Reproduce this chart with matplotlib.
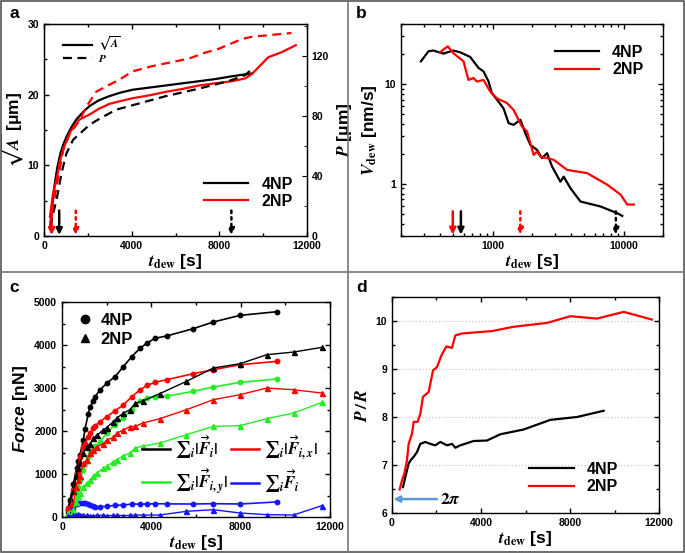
import matplotlib
matplotlib.use("Agg")
import matplotlib.pyplot as plt
from matplotlib.lines import Line2D
from matplotlib.patches import Rectangle
from matplotlib.ticker import MultipleLocator, FixedLocator, NullFormatter, FuncFormatter, LogLocator

plt.rcParams['font.family'] = ['Liberation Sans', 'DejaVu Sans']
plt.rcParams['font.weight'] = 'bold'
plt.rcParams['mathtext.fontset'] = 'stix'
plt.rcParams['mathtext.it'] = 'Liberation Sans:italic:bold'
plt.rcParams['mathtext.rm'] = 'Liberation Sans:bold'
plt.rcParams['mathtext.bf'] = 'Liberation Sans:bold'

# ---------------- data: panel a ----------------
t_a_sqrt4 = [300, 450, 600, 750, 875, 1050, 1250, 1479, 1800, 2083, 2500, 2988, 3500, 4045, 4800, 5555, 6300, 7064, 7800, 8574, 9000, 9480]
sqrtA_4 = [2.0, 6.5, 9.6, 11.7, 12.9, 14.2, 15.4, 16.5, 17.6, 18.4, 19.2, 19.8, 20.3, 20.7, 21.0, 21.3, 21.6, 21.9, 22.2, 22.6, 22.8, 23.0]
t_a_sqrt2 = [272, 400, 574, 720, 875, 1177, 1400, 1630, 2083, 2500, 2988, 3500, 4045, 4800, 5555, 6300, 7064, 7800, 8574, 9178, 9480, 10234, 10838, 11487]
sqrtA_2 = [2.7, 5.8, 8.0, 10.5, 12.3, 14.6, 15.7, 16.5, 17.2, 18.0, 18.7, 19.1, 19.5, 19.9, 20.4, 20.8, 21.3, 21.6, 21.9, 22.3, 22.9, 25.3, 26.0, 27.0]
t_a_P4 = [272, 450, 574, 800, 1026, 1328, 1630, 2083, 2536, 3290, 4045, 5555, 7064, 8423, 9178, 9480]
P_4 = [6, 17, 24, 42, 55, 64, 68, 74, 78, 84, 87, 93, 98, 103, 107, 111]
t_a_P2 = [272, 420, 574, 875, 1177, 1630, 1932, 2385, 2838, 3441, 4045, 4950, 6611, 7366, 7970, 9027, 9480, 11291]
P_2 = [6, 20, 33, 57, 68, 77, 86, 96, 99.5, 104, 109.5, 113, 118, 122, 124.5, 131, 132.5, 135]
arrows_a = [(347, 'red', '-'), (694, 'black', '-'), (1450, 'red', ':'), (8550, 'black', ':')]

# ---------------- data: panel b ----------------
t_b4 = [284, 324, 353, 421, 502, 566, 675, 782, 853, 932, 988, 1079, 1213, 1326, 1448, 1629, 1778, 1942, 2184, 2385, 2606, 2846, 3296, 3493, 3928, 4688, 6668, 8951, 9772]
v_b4 = [16.9, 21.3, 21.7, 20.2, 21.7, 20.8, 18.7, 14.5, 13.4, 10.6, 8.1, 7.0, 5.7, 4.06, 3.9, 4.39, 3.22, 2.46, 2.19, 1.81, 2.03, 1.49, 1.05, 1.18, 0.905, 0.665, 0.593, 0.508, 0.477]
t_b2 = [398, 455, 502, 600, 655, 715, 759, 853, 960, 1079, 1288, 1448, 1675, 1832, 2060, 2184, 2317, 2932, 3707, 5272, 7500, 9484, 10670, 12000]
v_b2 = [20.9, 23.9, 20.4, 16.9, 11.0, 11.5, 10.6, 11.0, 8.4, 7.2, 6.45, 5.5, 3.76, 3.35, 1.95, 2.11, 1.88, 1.74, 1.38, 1.28, 0.98, 0.78, 0.62, 0.62]
arrows_b = [(497, 'red', '-'), (573, 'black', '-'), (1629, 'red', ':'), (8730, 'black', ':')]

# ---------------- data: panel c ----------------
t_c4 = [255, 358, 508, 657, 731, 806, 955, 1030, 1179, 1254, 1403, 1478, 1702, 2001, 2374, 2746, 3119, 3493, 3791, 4164, 4686, 5872, 6771, 7969, 9617]
F_c4_tot = [170, 400, 760, 1150, 1300, 1450, 1791, 2050, 2400, 2566, 2700, 2798, 2954, 3110, 3264, 3496, 3729, 3923, 4040, 4156, 4210, 4379, 4534, 4689, 4774]
F_c4_x = [209, 240, 628, 1016, 1100, 1403, 1635, 1700, 1868, 1950, 2062, 2120, 2217, 2330, 2470, 2605, 2798, 2954, 3060, 3130, 3193, 3332, 3425, 3541, 3619]
F_c4_y = [100, 150, 163, 551, 700, 861, 1100, 1249, 1400, 1482, 1600, 1650, 1752, 1950, 2150, 2300, 2500, 2690, 2760, 2800, 2810, 2922, 3022, 3131, 3209]
F_c4_sum = [15, 170, 240, 300, 320, 326, 326, 330, 300, 280, 250, 240, 233, 250, 270, 279, 300, 300, 300, 310, 305, 302, 310, 302, 350]
t_c2 = [255, 508, 629, 731, 806, 955, 1105, 1254, 1403, 1553, 1851, 2001, 2299, 2448, 2746, 3045, 3269, 3625, 4374, 5573, 6771, 7969, 9168, 10366, 11639]
F_c2_tot = [170, 600, 945, 1150, 1249, 1500, 1635, 1700, 1829, 1900, 2024, 2080, 2217, 2300, 2411, 2500, 2644, 2700, 2868, 3154, 3464, 3565, 3774, 3836, 3945]
F_c2_x = [209, 318, 700, 861, 950, 1249, 1330, 1482, 1550, 1635, 1700, 1791, 1850, 1947, 2024, 2101, 2108, 2185, 2286, 2495, 2728, 2844, 2999, 2960, 2883]
F_c2_y = [100, 170, 360, 480, 560, 700, 790, 850, 950, 1023, 1130, 1178, 1280, 1333, 1420, 1488, 1604, 1650, 1720, 1914, 2108, 2124, 2286, 2418, 2666]
F_c2_sum = [15, 40, 54, 60, 50, 40, 35, 31, 30, 35, 40, 31, 35, 40, 30, 40, 46, 45, 46, 132, 170, 93, 54, 46, 264]

# ---------------- data: panel d ----------------
t_d2 = [345, 449, 554, 674, 749, 824, 899, 974, 1153, 1273, 1393, 1648, 1843, 2022, 2217, 2442, 2696, 2846, 3146, 4494, 5468, 6966, 8014, 9213, 10411, 11684]
PR_2 = [6.49, 6.68, 6.82, 7.10, 7.44, 7.55, 7.65, 7.90, 7.90, 8.07, 8.42, 8.52, 8.97, 9.04, 9.28, 9.47, 9.44, 9.70, 9.74, 9.79, 9.88, 9.96, 10.10, 10.05, 10.19, 10.03]
t_d4 = [494, 599, 749, 854, 974, 1123, 1273, 1498, 1723, 1947, 2172, 2472, 2696, 2846, 3071, 3670, 4269, 4869, 5917, 7116, 8314, 9512]
PR_4 = [6.54, 6.75, 7.03, 7.11, 7.17, 7.27, 7.44, 7.48, 7.44, 7.41, 7.48, 7.41, 7.44, 7.36, 7.41, 7.50, 7.51, 7.64, 7.74, 7.94, 8.00, 8.13]

W, H = 685, 553
fig = plt.figure(figsize=(W / 100, H / 100), dpi=100)

def ax_at(l, t, r, b):
    return fig.add_axes([l / W, 1 - b / H, (r - l) / W, (b - t) / H])

TICK_FS = 7.5
LAB_FS = 12.5
XLABEL = r'$\mathbfit{t}_{\mathbf{dew}}$ [s]'
SERIF = dict(math_fontfamily='stix')

def style(ax, right=True):
    ax.tick_params(which='both', direction='in', top=True, right=right, labelsize=TICK_FS, width=1)
    ax.tick_params(which='major', length=3.5)
    ax.tick_params(which='minor', length=2)
    for s in ax.spines.values():
        s.set_linewidth(1.0)
    for lab in ax.get_xticklabels() + ax.get_yticklabels():
        lab.set_fontweight('bold')

def xlab(ax):
    ax.set_xlabel(XLABEL, fontsize=LAB_FS, fontweight='bold', labelpad=1, **SERIF)

# ---------------- panel a ----------------
axa = ax_at(44, 24, 307, 236)
axa.plot(t_a_sqrt4, sqrtA_4, color='black', lw=1.6)
axa.plot(t_a_sqrt2, sqrtA_2, color='red', lw=1.6)
axa.set_xlim(0, 12000)
axa.set_ylim(0, 30)
axa.xaxis.set_major_locator(MultipleLocator(4000))
axa.xaxis.set_minor_locator(MultipleLocator(2000))
axa.yaxis.set_major_locator(MultipleLocator(10))
axa.yaxis.set_minor_locator(MultipleLocator(5))
style(axa, right=False)
xlab(axa)
axa.set_ylabel(r'$\sqrt{\mathbfit{A}}$ [μm]', fontsize=LAB_FS, fontweight='bold', labelpad=2, **SERIF)
axr = axa.twinx()
axr.plot(t_a_P4, P_4, color='black', lw=1.6, ls=(0, (4, 2.5)))
axr.plot(t_a_P2, P_2, color='red', lw=1.6, ls=(0, (4, 2.5)))
axr.set_ylim(0, 141)
axr.yaxis.set_major_locator(MultipleLocator(40))
axr.yaxis.set_minor_locator(MultipleLocator(20))
axr.tick_params(which='both', direction='in', labelsize=TICK_FS)
axr.tick_params(which='major', length=3.5)
axr.tick_params(which='minor', length=2)
for lab in axr.get_yticklabels():
    lab.set_fontweight('bold')
axr.set_ylabel(r'$\mathbfit{P}$ [μm]', fontsize=LAB_FS, fontweight='bold', labelpad=4, **SERIF)
for t, c, ls in arrows_a:
    axa.annotate('', xy=(t, 0.15), xytext=(t, 3.6),
                 arrowprops=dict(arrowstyle='-|>', color=c, lw=1.8, ls=ls, mutation_scale=9, shrinkA=0, shrinkB=0))
h1 = [Line2D([], [], color='black', lw=1.6), Line2D([], [], color='black', lw=1.6, ls=(0, (4, 2.5)))]
leg1 = axa.legend(h1, [r'$\sqrt{A}$', r'$P$'], loc='upper left', bbox_to_anchor=(0.04, 0.99),
                  frameon=False, prop={'size': 8, 'weight': 'bold', 'style': 'italic'},
                  handlelength=2.6, labelspacing=0.0, borderpad=0.3, handletextpad=0.5)
axa.add_artist(leg1)
h2 = [Line2D([], [], color='black', lw=1.6), Line2D([], [], color='red', lw=1.6)]
axa.legend(h2, ['4NP', '2NP'], loc='lower right', bbox_to_anchor=(1.0, 0.06), frameon=False,
           prop={'size': 11.5, 'weight': 'bold'}, handlelength=2.8, labelspacing=0.15)

# ---------------- panel b ----------------
axb = ax_at(401, 24, 663, 236)
axb.plot(t_b4, v_b4, color='black', lw=1.6, label='4NP')
axb.plot(t_b2, v_b2, color='red', lw=1.6, label='2NP')
axb.set_xscale('log')
axb.set_yscale('log')
axb.set_xlim(200, 20000)
axb.set_ylim(0.3, 40)
fmt = FuncFormatter(lambda v, p: '%g' % v)
axb.xaxis.set_major_locator(FixedLocator([1000, 10000]))
axb.xaxis.set_major_formatter(fmt)
axb.xaxis.set_minor_locator(LogLocator(base=10, subs=range(2, 10)))
axb.xaxis.set_minor_formatter(NullFormatter())
axb.yaxis.set_major_locator(FixedLocator([1, 10]))
axb.yaxis.set_major_formatter(fmt)
axb.yaxis.set_minor_locator(LogLocator(base=10, subs=range(2, 10)))
axb.yaxis.set_minor_formatter(NullFormatter())
style(axb)
xlab(axb)
axb.set_ylabel(r'$\mathbfit{V}_{\mathbf{dew}}$ [nm/s]', fontsize=LAB_FS, fontweight='bold', labelpad=4, **SERIF)
for t, c, ls in arrows_b:
    axb.annotate('', xy=(t, 0.31), xytext=(t, 0.53),
                 arrowprops=dict(arrowstyle='-|>', color=c, lw=1.8, ls=ls, mutation_scale=9, shrinkA=0, shrinkB=0))
axb.legend(loc='upper right', bbox_to_anchor=(0.98, 0.97), frameon=False,
           prop={'size': 11.5, 'weight': 'bold'}, handlelength=2.8, labelspacing=0.15)

# ---------------- panel c ----------------
axc = ax_at(62, 302, 330, 517)
GREEN = '#22ee22'
BLUE = '#1515ff'
for F, col in [(F_c4_tot, 'black'), (F_c4_x, 'red'), (F_c4_y, GREEN), (F_c4_sum, BLUE)]:
    axc.plot(t_c4, F, color=col, lw=1.2, marker='o', ms=3.2)
for F, col in [(F_c2_tot, 'black'), (F_c2_x, 'red'), (F_c2_y, GREEN), (F_c2_sum, BLUE)]:
    axc.plot(t_c2, F, color=col, lw=1.0, marker='^', ms=3.6)
axc.set_xlim(0, 12000)
axc.set_ylim(0, 5000)
axc.xaxis.set_major_locator(MultipleLocator(4000))
axc.xaxis.set_minor_locator(MultipleLocator(2000))
axc.yaxis.set_major_locator(MultipleLocator(1000))
axc.yaxis.set_minor_locator(MultipleLocator(500))
style(axc)
xlab(axc)
axc.set_ylabel(r'$\mathit{Force}$ [nN]', fontsize=LAB_FS, fontweight='bold', labelpad=3, math_fontfamily='custom')
hm = [Line2D([], [], color='black', marker='o', ls='none', ms=6),
      Line2D([], [], color='black', marker='^', ls='none', ms=6)]
legm = axc.legend(hm, ['4NP', '2NP'], loc='upper left', bbox_to_anchor=(0.0, 1.02), frameon=False,
                  prop={'size': 12, 'weight': 'bold'}, handlelength=1.0, labelspacing=0.25, handletextpad=0.4)
axc.add_artist(legm)
hl = [Line2D([], [], color='black', lw=1.8), Line2D([], [], color=GREEN, lw=1.8),
      Line2D([], [], color='red', lw=1.8), Line2D([], [], color=BLUE, lw=1.8)]
labs = [r'${\sum}_i|\vec{\mathbfit{F}}_i|$', r'${\sum}_i|\vec{\mathbfit{F}}_{i,y}|$',
        r'${\sum}_i|\vec{\mathbfit{F}}_{i,x}|$', r'${\sum}_i\vec{\mathbfit{F}}_i$']
legl = axc.legend(hl, labs, loc='lower right', bbox_to_anchor=(1.01, 0.03), ncol=2, frameon=False,
                  prop={'size': 12}, handlelength=1.7, columnspacing=0.15, handletextpad=0.3, labelspacing=0.3)
for txt in legl.get_texts():
    txt.set_math_fontfamily('stix')

# ---------------- panel d ----------------
axd = ax_at(392, 297, 659, 513)
axd.plot(t_d4, PR_4, color='black', lw=1.6, label='4NP')
axd.plot(t_d2, PR_2, color='red', lw=1.6, label='2NP')
axd.set_xlim(0, 12000)
axd.set_ylim(6, 10.5)
axd.xaxis.set_major_locator(MultipleLocator(4000))
axd.xaxis.set_minor_locator(MultipleLocator(2000))
axd.yaxis.set_major_locator(MultipleLocator(1))
axd.yaxis.set_minor_locator(MultipleLocator(0.5))
axd.yaxis.grid(True, which='major', color='#c8c8c8', ls=':', lw=0.9)
style(axd)
xlab(axd)
axd.set_ylabel(r'$\mathbfit{P}\,/\,\mathbfit{R}$', fontsize=LAB_FS, fontweight='bold', labelpad=4, **SERIF)
axd.annotate('', xy=(60, 6.29), xytext=(2020, 6.29),
             arrowprops=dict(arrowstyle='-|>', color='#5b9bd5', lw=1.8, mutation_scale=9, shrinkA=0, shrinkB=0))
axd.text(2150, 6.29, r'$\mathbf{2}\mathbfit{\pi}$', fontsize=12.5, va='center', ha='left', **SERIF)
axd.legend(loc='lower right', bbox_to_anchor=(0.9, 0.02), frameon=False,
           prop={'size': 11.5, 'weight': 'bold'}, handlelength=2.8, labelspacing=0.15)

# ---------------- panel labels & frame ----------------
for x, y, s in [(9, 14, 'a'), (356, 14, 'b'), (9, 287, 'c'), (356, 287, 'd')]:
    fig.text(x / W, 1 - y / H, s, fontsize=12.5, fontweight='bold', ha='left', va='center')
fig.add_artist(Line2D([348 / W, 348 / W], [0, 1], transform=fig.transFigure, color='#777777', lw=1.2))
fig.add_artist(Line2D([0, 1], [1 - 272 / H, 1 - 272 / H], transform=fig.transFigure, color='#777777', lw=1.2))
fig.add_artist(Rectangle((0.001, 0.001), 0.997, 0.997, transform=fig.transFigure, fill=False,
                         edgecolor='#555555', lw=1.2))

fig.savefig('out.png', dpi=100)
